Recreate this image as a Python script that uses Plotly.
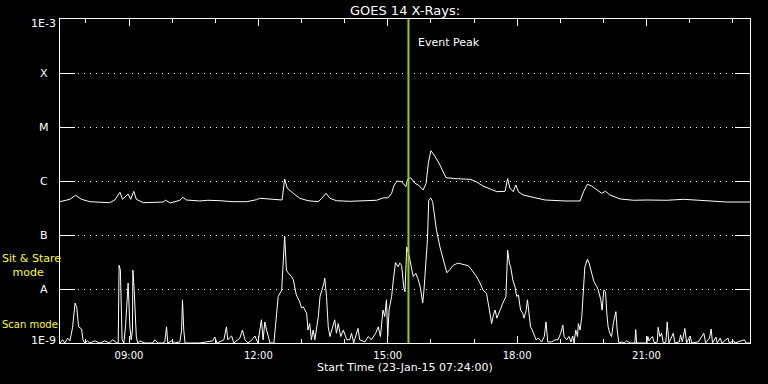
import math
import pandas as pd
import plotly.graph_objects as go

# ---------------- data ----------------
day = pd.Timestamp("2015-01-23")
range_start_hour = 7.40   # 07:24
range_end_hour = 23.40    # 23:24

# GOES 14 long channel (1-8 A), time in decimal hours UT, log10 flux (W/m^2)
long_hours = [7.40, 7.63, 7.76, 7.90, 8.09, 8.55, 8.67, 8.79, 8.85, 8.98,
              9.04, 9.11, 9.17, 9.33, 9.79, 9.85, 9.96, 10.18, 10.25, 10.33,
              10.64, 10.83, 11.11, 11.41, 11.73, 11.96, 12.03, 12.31, 12.55, 12.61,
              12.67, 12.81, 12.96, 13.15, 13.39, 13.47, 13.57, 13.66, 13.81, 14.12,
              14.51, 14.74, 14.89, 15.01, 15.09, 15.14, 15.21, 15.32, 15.42, 15.46,
              15.53, 15.63, 15.71, 15.82, 15.89, 15.94, 16.00, 16.09, 16.21, 16.35,
              16.60, 16.91, 17.05, 17.21, 17.53, 17.72, 17.78, 17.83, 17.91, 17.97,
              18.03, 18.14, 18.37, 18.65, 19.11, 19.46, 19.54, 19.63, 19.73, 19.85,
              19.96, 20.05, 20.15, 20.39, 20.70, 21.01, 21.47, 21.86, 22.24, 22.63,
              22.86, 23.40]
long_logflux = [-6.383, -6.339, -6.265, -6.339, -6.383, -6.402, -6.352, -6.209, -6.339, -6.241,
                -6.339, -6.191, -6.339, -6.402, -6.389, -6.357, -6.407, -6.357, -6.302, -6.352,
                -6.370, -6.357, -6.365, -6.383, -6.383, -6.346, -6.320, -6.333, -6.352, -5.963,
                -6.135, -6.228, -6.320, -6.365, -6.383, -6.320, -6.228, -6.320, -6.365, -6.376,
                -6.365, -6.357, -6.315, -6.309, -6.228, -6.093, -6.000, -6.013, -6.106, -5.969,
                -5.939, -6.043, -6.074, -6.167, -6.043, -5.672, -5.439, -5.537, -5.704, -5.939,
                -5.957, -5.969, -6.013, -6.093, -6.198, -6.191, -5.954, -6.130, -6.198, -6.074,
                -6.198, -6.259, -6.302, -6.352, -6.370, -6.370, -6.198, -6.061, -6.093, -6.167,
                -6.228, -6.191, -6.259, -6.333, -6.357, -6.352, -6.357, -6.339, -6.357, -6.370,
                -6.389, -6.389]

# GOES 14 short channel (0.5-4 A)
short_hours = [7.40, 7.46, 7.51, 7.58, 7.63, 7.69, 7.75, 7.79, 7.83, 7.90,
               7.93, 7.97, 8.04, 8.09, 8.21, 8.32, 8.44, 8.55, 8.62, 8.72,
               8.75, 8.77, 8.80, 8.84, 8.88, 8.92, 8.98, 9.02, 9.05, 9.08,
               9.09, 9.12, 9.17, 9.20, 9.25, 9.37, 9.55, 9.60, 9.67, 9.78,
               9.83, 9.87, 9.90, 9.99, 10.06, 10.18, 10.22, 10.24, 10.27, 10.30,
               10.41, 10.64, 10.94, 10.99, 11.04, 11.20, 11.26, 11.29, 11.38, 11.43,
               11.57, 11.63, 11.69, 11.76, 11.85, 11.92, 11.99, 12.07, 12.11, 12.15,
               12.19, 12.23, 12.27, 12.36, 12.42, 12.46, 12.54, 12.57, 12.61, 12.65,
               12.69, 12.77, 12.81, 12.88, 12.96, 13.00, 13.04, 13.12, 13.15, 13.19,
               13.23, 13.27, 13.31, 13.39, 13.43, 13.52, 13.54, 13.58, 13.62, 13.66,
               13.70, 13.77, 13.81, 13.85, 13.91, 13.97, 14.05, 14.12, 14.16, 14.21,
               14.31, 14.35, 14.47, 14.55, 14.62, 14.72, 14.78, 14.83, 14.89, 14.93,
               14.97, 15.00, 15.03, 15.09, 15.13, 15.18, 15.24, 15.28, 15.32, 15.37,
               15.40, 15.44, 15.50, 15.55, 15.59, 15.65, 15.71, 15.76, 15.81, 15.84,
               15.87, 15.92, 15.95, 16.00, 16.04, 16.09, 16.13, 16.21, 16.29, 16.37,
               16.44, 16.52, 16.63, 16.75, 16.87, 16.95, 17.06, 17.14, 17.21, 17.29,
               17.33, 17.37, 17.41, 17.45, 17.49, 17.53, 17.60, 17.68, 17.74, 17.78,
               17.82, 17.85, 17.90, 17.95, 17.99, 18.03, 18.08, 18.13, 18.16, 18.21,
               18.24, 18.27, 18.31, 18.35, 18.40, 18.44, 18.49, 18.57, 18.63, 18.67,
               18.71, 18.80, 18.88, 18.95, 19.01, 19.06, 19.09, 19.15, 19.20, 19.25,
               19.29, 19.32, 19.36, 19.40, 19.42, 19.46, 19.50, 19.53, 19.57, 19.63,
               19.67, 19.73, 19.78, 19.85, 19.88, 19.94, 19.97, 20.01, 20.05, 20.08,
               20.11, 20.15, 20.19, 20.23, 20.29, 20.32, 20.36, 20.43, 20.48, 20.54,
               20.62, 20.73, 20.75, 20.77, 21.01, 21.03, 21.06, 21.10, 21.14, 21.18,
               21.25, 21.27, 21.31, 21.35, 21.39, 21.45, 21.48, 21.52, 21.57, 21.62,
               21.66, 21.76, 21.79, 21.83, 21.89, 21.93, 22.01, 22.05, 22.20, 22.33,
               22.37, 22.46, 22.50, 22.53, 22.61, 22.64, 22.71, 22.75, 22.89, 22.92,
               23.02, 23.05, 23.27, 23.31, 23.40]
short_logflux = [-9.00, -8.94, -9.00, -8.91, -8.96, -8.72, -8.26, -8.35, -8.70, -8.74,
                 -8.93, -9.00, -8.96, -9.00, -8.96, -9.00, -8.96, -9.00, -8.94, -9.00,
                 -9.00, -7.56, -7.65, -8.94, -9.00, -8.69, -7.89, -8.70, -8.94, -8.76,
                 -7.65, -8.02, -8.89, -9.00, -8.96, -9.00, -9.00, -8.94, -9.00, -9.00,
                 -8.98, -8.70, -9.00, -8.96, -9.00, -8.98, -8.76, -8.20, -8.76, -9.00,
                 -9.00, -9.00, -8.96, -8.89, -9.00, -8.94, -8.70, -8.94, -8.87, -9.00,
                 -8.91, -8.76, -8.94, -9.00, -8.94, -8.87, -9.00, -8.57, -8.94, -8.61,
                 -8.76, -8.91, -9.00, -9.00, -8.39, -8.14, -8.02, -7.52, -7.02, -7.65,
                 -7.70, -7.77, -7.83, -8.11, -8.24, -8.35, -8.33, -8.45, -8.76, -8.64,
                 -8.94, -8.76, -8.94, -8.51, -8.14, -7.89, -7.80, -8.14, -8.70, -8.88,
                 -8.76, -8.57, -8.82, -8.64, -8.88, -8.76, -8.94, -8.94, -8.82, -9.00,
                 -8.73, -8.94, -8.98, -8.88, -8.94, -8.82, -8.70, -8.88, -8.39, -8.51,
                 -8.20, -8.88, -8.39, -8.14, -7.83, -7.51, -7.59, -7.52, -7.56, -7.96,
                 -8.05, -7.22, -7.40, -7.65, -7.77, -7.71, -7.83, -7.99, -8.26, -8.02,
                 -7.65, -7.09, -6.35, -6.32, -6.38, -6.66, -6.91, -7.22, -7.46, -7.70,
                 -7.64, -7.56, -7.52, -7.54, -7.57, -7.65, -7.77, -7.89, -8.02, -8.08,
                 -8.26, -8.39, -8.64, -8.48, -8.39, -8.54, -8.39, -8.24, -8.14, -7.28,
                 -7.52, -7.59, -7.83, -7.96, -8.14, -8.11, -8.39, -8.45, -8.54, -8.39,
                 -8.20, -8.39, -8.70, -8.76, -8.88, -8.94, -8.91, -8.98, -8.88, -8.61,
                 -8.98, -8.98, -8.94, -8.94, -8.82, -8.67, -8.88, -8.94, -8.88, -8.98,
                 -8.87, -9.00, -8.76, -8.88, -8.64, -8.76, -8.51, -8.02, -7.59, -7.45,
                 -7.52, -7.71, -7.86, -7.96, -8.02, -8.20, -8.39, -8.02, -8.05, -8.45,
                 -8.70, -8.82, -8.88, -8.64, -8.42, -8.76, -9.00, -8.98, -9.00, -8.96,
                 -9.00, -9.00, -8.75, -9.00, -9.00, -8.88, -8.96, -8.91, -8.88, -9.00,
                 -8.98, -8.71, -8.88, -8.82, -9.00, -8.98, -8.61, -9.00, -8.91, -8.82,
                 -9.00, -8.98, -8.85, -8.98, -8.73, -9.00, -8.87, -9.00, -8.98, -8.82,
                 -9.00, -8.91, -8.74, -9.00, -8.89, -9.00, -8.91, -9.00, -8.91, -9.00,
                 -8.96, -9.00, -8.94, -9.00, -9.00]

event_peak_hour = 15.48          # 15:29
scan_mode_start_hour = 18.25     # 18:15
scan_mode_end_hour = 19.31       # 19:19
scan_mode_top_flux = 1e-7

class_levels = [1e-9, 1e-8, 1e-7, 1e-6, 1e-5, 1e-4, 1e-3]
class_labels = ["1E-9", "A", "B", "C", "M", "X", "1E-3"]
class_label_shift = [3, 0, 0, 0, 0, 0, -4]

x_tick_hours = [9, 12, 15, 18, 21]
x_tick_labels = ["09:00", "12:00", "15:00", "18:00", "21:00"]

# ---------------- helpers ----------------
def to_time(h):
    return day + pd.Timedelta(hours=h)

def times(hs):
    return [to_time(h) for h in hs]

FONT = "DejaVu Sans"
WHITE = "#ffffff"
YELLOW = "#ffff00"

fig = go.Figure()

fig.add_trace(go.Scatter(
    x=times(long_hours), y=[10 ** v for v in long_logflux],
    mode="lines", line=dict(color=WHITE, width=1), hoverinfo="skip"))
fig.add_trace(go.Scatter(
    x=times(short_hours), y=[10 ** v for v in short_logflux],
    mode="lines", line=dict(color=WHITE, width=1), hoverinfo="skip"))

# scan-mode period (magenta block)
fig.add_shape(type="rect", xref="x", yref="y",
              x0=to_time(scan_mode_start_hour), x1=to_time(scan_mode_end_hour),
              y0=math.log10(class_levels[0]), y1=math.log10(scan_mode_top_flux),
              fillcolor="#cc00cc", line=dict(width=0), layer="below")

# event peak line
fig.add_shape(type="line", xref="x", yref="paper",
              x0=to_time(event_peak_hour), x1=to_time(event_peak_hour),
              y0=0, y1=1, line=dict(color="#99cc00", width=2), layer="above")

annotations = []
for lvl, lab, sh in zip(class_levels, class_labels, class_label_shift):
    annotations.append(dict(
        xref="paper", yref="y", x=-0.0232, y=math.log10(lvl), text=lab,
        showarrow=False, xanchor="center", yanchor="middle", yshift=sh,
        font=dict(family=FONT, size=11, color=WHITE)))

annotations.append(dict(
    xref="x", yref="paper", x=to_time(event_peak_hour), y=0.9265,
    text="Event Peak", showarrow=False, xanchor="left", yanchor="middle",
    xshift=8, font=dict(family=FONT, size=11, color=WHITE)))

annotations.append(dict(
    xref="paper", yref="paper", x=-0.086, y=0.2407,
    text="Sit & Stare<br>   mode", showarrow=False, xanchor="left",
    yanchor="middle", align="left", borderpad=0,
    font=dict(family=FONT, size=11, color=YELLOW)))
annotations.append(dict(
    xref="paper", yref="paper", x=-0.086, y=0.0586,
    text="Scan mode", showarrow=False, xanchor="left", yanchor="middle",
    borderpad=0, font=dict(family=FONT, size=10, color=YELLOW)))

annotations.append(dict(
    xref="paper", yref="paper", x=0.5, y=-0.077,
    text="Start Time (23-Jan-15 07:24:00)", showarrow=False,
    xanchor="center", yanchor="middle",
    font=dict(family=FONT, size=11, color=WHITE)))

fig.update_layout(
    width=768, height=384,
    margin=dict(l=60, r=18, t=19, b=41),
    paper_bgcolor="black", plot_bgcolor="black",
    showlegend=False,
    title=dict(text="GOES 14 X-Rays:", x=0.5, xref="paper", xanchor="center",
               y=1 - 10 / 384, yref="container", yanchor="middle",
               font=dict(family=FONT, size=13, color=WHITE)),
    annotations=annotations,
    xaxis=dict(
        type="date",
        range=[to_time(range_start_hour), to_time(range_end_hour)],
        showgrid=False, zeroline=False,
        showline=True, linecolor=WHITE, linewidth=1, mirror="ticks",
        ticks="inside", ticklen=7, tickwidth=1, tickcolor=WHITE,
        tickmode="array", tickvals=[to_time(h) for h in x_tick_hours],
        ticktext=x_tick_labels, ticklabelstandoff=3,
        tickfont=dict(family=FONT, size=10, color=WHITE),
        minor=dict(ticks="inside", ticklen=4, tickwidth=1, tickcolor=WHITE,
                   tickmode="linear", tick0=day, dtick=3600000,
                   showgrid=False),
    ),
    yaxis=dict(
        type="log", range=[-9, -3],
        showline=True, linecolor=WHITE, linewidth=1, mirror="ticks",
        ticks="inside", ticklen=15, tickwidth=1, tickcolor=WHITE,
        tickmode="array", tickvals=class_levels, showticklabels=False,
        showgrid=True, gridcolor=WHITE, gridwidth=1, griddash="1px,5px",
        zeroline=False,
    ),
)

fig.write_html("out.html")
